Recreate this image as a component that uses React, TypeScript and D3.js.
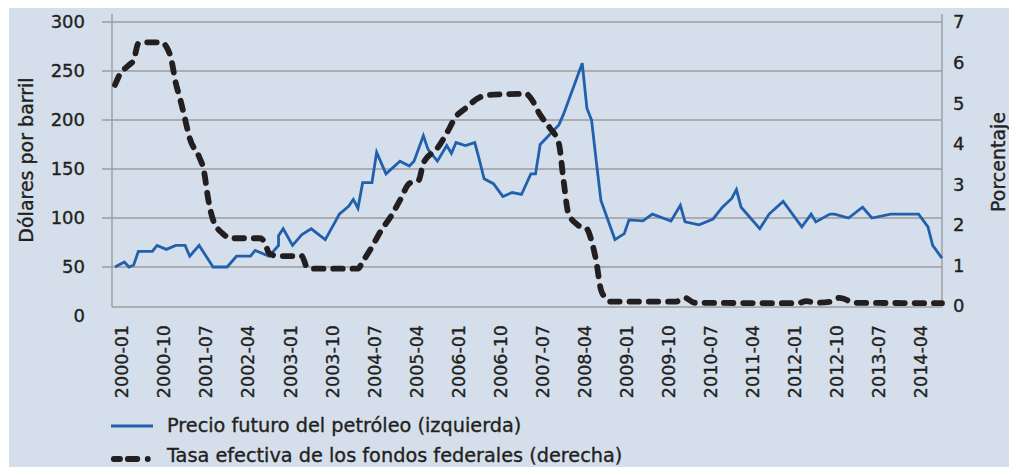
import React from 'react';
import * as d3 from 'd3';

// ---------- data ----------
const oilDates: string[] = [
  '2000-01','2000-03','2000-04','2000-05','2000-06','2000-09','2000-10','2000-12','2001-02','2001-04',
  '2001-05','2001-07','2001-10','2002-01','2002-03','2002-06','2002-07','2002-10','2002-12','2002-12',
  '2003-01','2003-03','2003-05','2003-07','2003-10','2003-12','2004-01','2004-03','2004-04','2004-05',
  '2004-06','2004-08','2004-09','2004-11','2005-02','2005-04','2005-05','2005-07','2005-08','2005-10',
  '2005-12','2006-01','2006-02','2006-04','2006-06','2006-07','2006-08','2006-10','2006-12','2007-02',
  '2007-04','2007-06','2007-07','2007-08','2007-12','2008-01','2008-05','2008-06','2008-07','2008-08',
  '2008-09','2008-12','2009-02','2009-03','2009-06','2009-08','2009-12','2010-02','2010-03','2010-06',
  '2010-09','2010-11','2011-01','2011-02','2011-03','2011-07','2011-09','2011-12','2012-04','2012-06',
  '2012-07','2012-10','2012-11','2013-02','2013-05','2013-07','2013-11','2014-05','2014-07','2014-08',
  '2014-10'
];
const oilValues: number[] = [
  50, 55, 50, 52, 66, 66, 72, 68, 72, 72,
  61, 72, 50, 50, 61, 61, 67, 61, 72, 82,
  89, 72, 83, 89, 78, 95, 104, 112, 119, 110,
  136, 136, 167, 145, 158, 153, 158, 184, 170, 158,
  174, 166, 177, 174, 177, 159, 140, 135, 122, 126,
  124, 145, 145, 175, 195, 206, 258, 212, 200, 158,
  118, 78, 84, 98, 97, 104, 97, 113, 96, 93,
  99, 111, 120, 129, 111, 89, 104, 117, 91, 104,
  96, 104, 104, 100, 111, 100, 104, 104, 91, 72,
  59
];

const fedDates: string[] = [
  '2000-01','2000-02','2000-04','2000-05','2000-06','2000-08','2000-11','2000-12','2001-01','2001-02',
  '2001-03','2001-04','2001-05','2001-07','2001-08','2001-09','2001-10','2001-12','2002-02','2002-08',
  '2002-09','2002-10','2002-12','2003-05','2003-06','2003-07','2004-05','2004-06','2004-08','2004-10',
  '2004-12','2005-02','2005-04','2005-06','2005-07','2005-10','2005-12','2006-02','2006-04','2006-07',
  '2006-10','2007-05','2007-06','2007-08','2007-10','2007-12','2008-01','2008-02','2008-04','2008-06',
  '2008-07','2008-08','2008-09','2008-10','2008-11','2010-01','2010-03','2010-05','2012-03','2012-05',
  '2012-07','2012-10','2012-12','2013-01','2013-03','2014-10'
];
const fedValues: number[] = [
  5.45, 5.7, 5.94, 6.06, 6.47, 6.5, 6.5, 6.39, 6.1, 5.5,
  5.08, 4.6, 4.13, 3.68, 3.35, 2.6, 2.12, 1.79, 1.67, 1.67,
  1.58, 1.3, 1.23, 1.23, 0.97, 0.92, 0.92, 1.09, 1.46, 1.87,
  2.2, 2.61, 3.02, 3.1, 3.52, 3.89, 4.26, 4.67, 4.87, 5.14,
  5.21, 5.23, 5.12, 4.71, 4.4, 4.0, 3.1, 2.3, 2.0, 1.9,
  1.6, 1.1, 0.4, 0.2, 0.11, 0.11, 0.2, 0.08, 0.07, 0.12,
  0.08, 0.1, 0.2, 0.18, 0.08, 0.07
];

const xTickLabels: string[] = [
  '2000-01','2000-10','2001-07','2002-04','2003-01','2003-10','2004-07','2005-04','2006-01','2006-10',
  '2007-07','2008-04','2009-01','2009-10','2010-07','2011-04','2012-01','2012-10','2013-07','2014-04'
];
const leftTicks: number[] = [0, 50, 100, 150, 200, 250, 300];
const rightTicks: number[] = [0, 1, 2, 3, 4, 5, 6, 7];

const leftTitle = 'Dólares por barril';
const rightTitle = 'Porcentaje';
const legendOil = 'Precio futuro del petróleo (izquierda)';
const legendFed = 'Tasa efectiva de los fondos federales (derecha)';

// monthly category axis
const months: string[] = [];
for (let y = 2000; y <= 2014; y++) {
  for (let m = 1; m <= 12; m++) {
    if (y === 2014 && m > 10) break;
    months.push(`${y}-${String(m).padStart(2, '0')}`);
  }
}

// ---------- layout ----------
const W = 1009;
const H = 467;
const plotLeft = 112;
const plotRight = 942;
const plotTop = 14;
const axisY = 307;
const BG = '#d5dfec';
const GRID = '#9c9c9c';
const TEXT = '#231f20';
const BLUE = '#2160ad';
const FONT = '"DejaVu Sans", Verdana, sans-serif';

const textStyle = { stroke: TEXT, strokeWidth: 0.35 } as const;

export default function App() {
  const x = d3.scalePoint<string>().domain(months).range([115, 942]);
  const yL = d3.scaleLinear().domain([0, 300]).range([316, 22]);
  const yR = d3.scaleLinear().domain([0, 7]).range([306, 22]);

  const oilLine = d3
    .line<number>()
    .x((_, i) => x(oilDates[i]) as number)
    .y((d) => yL(d));
  const fedLine = d3
    .line<number>()
    .x((_, i) => x(fedDates[i]) as number)
    .y((d) => yR(d))
    .curve(d3.curveMonotoneX);

  const dash = '9.5 9.8';

  return (
    <div style={{ position: 'absolute', left: 0, top: 0 }}>
      <svg width={W} height={H} style={{ display: 'block' }} fontFamily={FONT}>
        <rect x={0} y={0} width={W} height={H} fill="#ffffff" />
        <rect x={9} y={8} width={W - 9} height={H - 8} fill={BG} />

        {/* gridlines */}
        {leftTicks
          .filter((t) => t > 0)
          .map((t) => (
            <line key={'g' + t} x1={102} x2={plotRight} y1={yL(t)} y2={yL(t)} stroke={GRID} strokeWidth={1.4} />
          ))}
        {/* axes */}
        <line x1={plotLeft} x2={plotLeft} y1={plotTop} y2={axisY} stroke={GRID} strokeWidth={1.4} />
        <line x1={plotRight} x2={plotRight} y1={plotTop} y2={axisY} stroke={GRID} strokeWidth={1.4} />
        <line x1={plotLeft} x2={plotRight} y1={axisY} y2={axisY} stroke={GRID} strokeWidth={1.4} />

        {/* left ticks */}
        {leftTicks.map((t) => (
          <text key={'l' + t} x={85} y={yL(t)} dy="0.36em" textAnchor="end" fontSize={18} fill={TEXT} style={textStyle}>
            {t}
          </text>
        ))}
        {/* right ticks */}
        {rightTicks.map((t) => (
          <text key={'r' + t} x={953} y={yR(t)} dy="0.36em" textAnchor="start" fontSize={18} fill={TEXT} style={textStyle}>
            {t}
          </text>
        ))}
        {/* x tick labels */}
        {xTickLabels.map((lab) => (
          <text
            key={'x' + lab}
            transform={`translate(${(x(lab) as number) + 7},325) rotate(-90)`}
            dy="0.36em"
            textAnchor="end"
            fontSize={17.5}
            fill={TEXT}
            style={textStyle}
          >
            {lab}
          </text>
        ))}

        {/* axis titles */}
        <text transform="translate(26.5,160) rotate(-90)" dy="0.36em" textAnchor="middle" fontSize={19} fill={TEXT} style={textStyle}>
          {leftTitle}
        </text>
        <text transform="translate(998,162) rotate(-90)" dy="0.36em" textAnchor="middle" fontSize={19} fill={TEXT} style={textStyle}>
          {rightTitle}
        </text>

        {/* series */}
        <path d={oilLine(oilValues) || ''} fill="none" stroke={BLUE} strokeWidth={2.8} strokeLinejoin="miter" />
        <path
          d={fedLine(fedValues) || ''}
          fill="none"
          stroke={TEXT}
          strokeWidth={5.8}
          strokeDasharray={dash}
          strokeLinecap="round"
        />

        {/* legend */}
        <line x1={111} x2={153} y1={426} y2={426} stroke={BLUE} strokeWidth={2.8} />
        <text x={167} y={431.5} fontSize={19.3} fill={TEXT} style={textStyle}>
          {legendOil}
        </text>
        <line
          x1={113.8}
          x2={147.8}
          y1={459}
          y2={459}
          stroke={TEXT}
          strokeWidth={5.8}
          strokeDasharray="6.2 7.8 9.5 10.4 0.1 20"
          strokeLinecap="round"
        />
        <text x={167} y={461.7} fontSize={19.3} fill={TEXT} style={textStyle}>
          {legendFed}
        </text>
      </svg>
    </div>
  );
}
